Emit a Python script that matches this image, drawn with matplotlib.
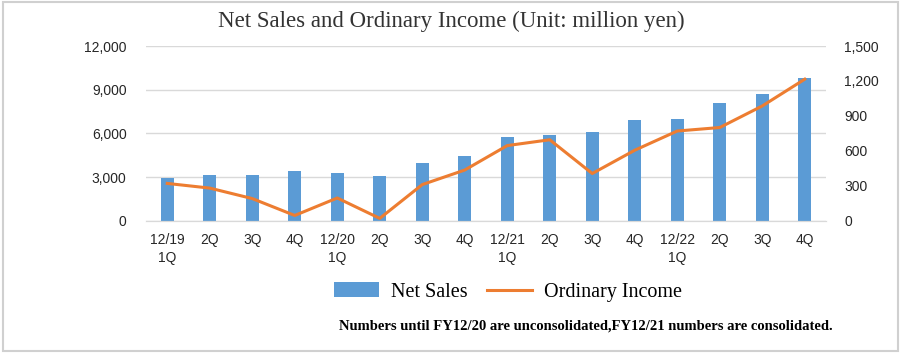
import matplotlib.pyplot as plt
from matplotlib.patches import Rectangle
from matplotlib.ticker import FuncFormatter

quarters = ['12/19\n1Q', '2Q', '3Q', '4Q', '12/20\n1Q', '2Q', '3Q', '4Q',
            '12/21\n1Q', '2Q', '3Q', '4Q', '12/22\n1Q', '2Q', '3Q', '4Q']
net_sales = [2950, 3160, 3150, 3390, 3270, 3070, 3980, 4410,
             5780, 5890, 6090, 6910, 7000, 8090, 8690, 9820]
ordinary_income = [320, 280, 190, 45, 195, 20, 310, 435,
                   645, 695, 405, 605, 770, 800, 985, 1215]

fig = plt.figure(figsize=(9.01, 3.53), dpi=100)
ax = fig.add_axes([146/901, 1-220.7/353, (826-146)/901, (220.7-46)/353])
ax2 = ax.twinx()

x = range(len(quarters))
b = ax.bar(x, net_sales, width=0.3, color='#5B9BD5', label='Net Sales', zorder=2)
l, = ax2.plot(x, ordinary_income, color='#ED7D31', lw=2.2, label='Ordinary Income', zorder=3)

ax.set_ylim(0, 12000)
ax.set_yticks([0, 3000, 6000, 9000, 12000])
ax2.set_ylim(0, 1500)
ax2.set_yticks([0, 300, 600, 900, 1200, 1500])
ax.set_xlim(-0.5, 15.5)
ax.set_xticks(list(x))
ax.set_xticklabels(quarters, linespacing=1.35)

fmt = FuncFormatter(lambda v, p: f'{int(v):,}')
ax.yaxis.set_major_formatter(fmt)
ax2.yaxis.set_major_formatter(fmt)

ax.grid(axis='y', color='#D9D9D9', lw=1, zorder=0)
for a in (ax, ax2):
    for s in ['top', 'left', 'right']:
        a.spines[s].set_visible(False)
    a.spines['bottom'].set_color('#D9D9D9')
    a.tick_params(length=0, labelsize=10, labelcolor='#262626')
    for t in a.get_yticklabels() + a.get_xticklabels():
        t.set_family('Liberation Sans')
ax.tick_params(axis='y', pad=14)
ax2.tick_params(axis='y', pad=13)
ax.tick_params(axis='x', pad=9)

fig.text(451/901, 1-21/353, 'Net Sales and Ordinary Income (Unit: million yen)',
         ha='center', va='center', family='Liberation Serif', fontsize=16.5, color='#333333')

fig.legend([b, l], ['Net Sales', 'Ordinary Income'], loc='center',
           bbox_to_anchor=(508/901, 1-292/353), ncol=2, frameon=False,
           prop={'family': 'Liberation Serif', 'size': 14.5},
           handlelength=2.2, columnspacing=1.0, handletextpad=0.6)

fig.text(833/901, 1-326/353,
         'Numbers until FY12/20 are unconsolidated,FY12/21 numbers are consolidated.',
         ha='right', va='center', family='Liberation Serif', fontweight='bold', fontsize=10.5)

fig.patches.append(Rectangle((0.003, 0.005), 0.994, 0.99, transform=fig.transFigure,
                             fill=False, edgecolor='#D0D0D0', lw=1.5))

fig.savefig('out.png', dpi=100)
